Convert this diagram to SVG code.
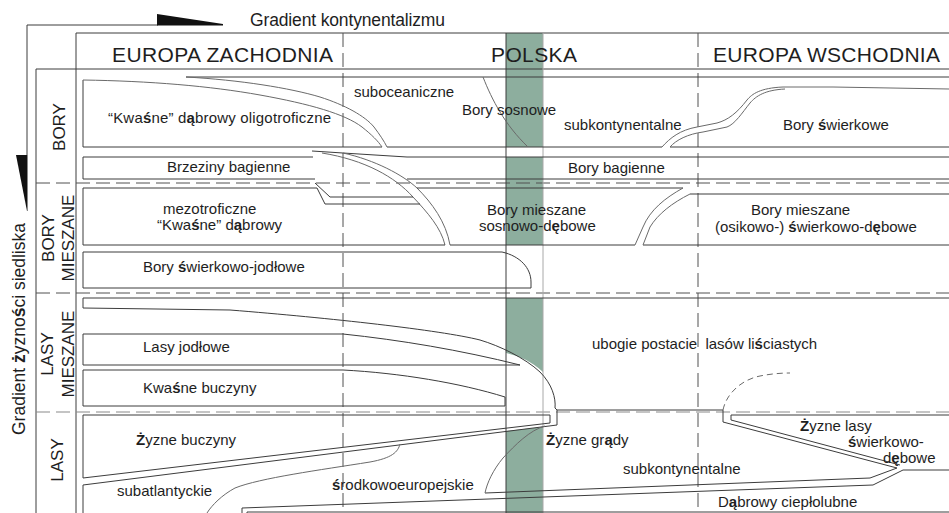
<svg xmlns="http://www.w3.org/2000/svg" width="949" height="513" viewBox="0 0 949 513">
<style>
.ln{fill:none;stroke:#3c3c3c;stroke-width:1}
.lg{fill:none;stroke:#6a6a6a;stroke-width:1}
.ll{fill:none;stroke:#a8a8a8;stroke-width:1}
.ds{fill:none;stroke:#505050;stroke-width:1;stroke-dasharray:14 6}
.dg{fill:none;stroke:#8a8a8a;stroke-width:1.2;stroke-dasharray:14 6}
.gr{fill:#8dae9e}
text{font-family:"Liberation Sans",Arial,sans-serif;fill:#1e1e1e;font-size:15px}
.h{font-size:21px}
.v{font-size:17px}
.g{font-size:17.5px}
.b{font-weight:bold}
</style>
<rect width="949" height="513" fill="#fff"/>
<g id="polska-band">
<rect class="gr" x="506" y="33" width="37" height="114"/>
<rect class="gr" x="506" y="157" width="37" height="88"/>
<path class="gr" d="M506,298 H543 V372 C530,360 518,356 506,353 Z"/>
<path class="gr" d="M506,431 L543,427 V513 H506 Z"/>
</g>
<g id="frame">
<path class="ln" d="M27,155 V25 H158"/>
<polygon points="157,14 223,24 223,25.5 157,25.5" fill="#111"/>
<polygon points="16,155 27.5,155 27.5,211 27,211" fill="#111"/>
<path class="ln" d="M76,33 H949 M76,33 V513 M36,69 H949 M36,69 V513"/>
<path class="ds" d="M343,33 V513 M698,33 V513"/>
<path class="ds" d="M36,183 H949 M36,293 H949"/>
<path class="dg" d="M36,412 H949"/>
<path class="ln" d="M506,33 V513"/>
<path class="ll" d="M543,33 V513"/>
</g>
<g id="connectors">
<path class="ln" d="M186,77 H949"/>
<path class="ln" d="M83,80 V147 H382 M387,147 H662 M670,147 H949"/>
<path class="lg" d="M83,80 C150,81 210,86 260,95 C310,104 345,114 362,127 C372,135 378,141 382,147"/>
<path class="lg" d="M186,77 C240,80 290,88 320,97 C345,105 365,116 374,127 C380,135 384,141 387,147"/>
<path class="lg" d="M483,77 C492,100 505,125 528,147"/>
<path class="lg" d="M662,147 C670,138 680,130 697,127 L717,123 C728,120 737,113 747,100 C752,94 760,88 783,87 H833 L949,89"/>
<path class="lg" d="M670,147 C676,140 688,134 703,132 L727,127 C735,124 742,113 750,103 C756,96 765,90 785,89"/>
<path class="ln" d="M83,157 H313 M83,157 V179 H315 M407,157 H949 M407,179 H949"/>
<path class="ln" d="M343,153 L407,157"/>
<path class="ln" stroke-width="1.8" d="M312,151 L343,153"/>
<path class="lg" d="M322,153 C365,160 395,177 413,197 C428,213 441,228 445,245"/>
<path class="lg" d="M343,153 C375,160 403,175 417,188 C432,203 446,222 450,245"/>
<path class="ln" d="M315,183 L330,197 H413"/>
<path class="ln" d="M83,188 H317 L325,204 H420"/>
<path class="ln" d="M83,188 V245 H445 M450,245 H635 M643,245 H949"/>
<path class="ln" d="M417,188 H683 M690,194 H949"/>
<path class="lg" d="M683,188 C665,198 650,210 643,227 L635,245"/>
<path class="lg" d="M690,194 C672,203 658,214 650,227 L643,245"/>
<path class="ln" d="M83,252 H502 C520,256 531,268 531,282 V288 H83 Z"/>
<path class="ln" d="M83,298 H949"/>
<path class="ln" d="M83,298 V308 L230,310 C330,318 440,330 480,340 C500,346 525,358 540,372 C552,384 556,398 555,408 L557,410 H723 V422 L897,468"/>
<path class="ln" d="M83,334 H343 C400,340 460,350 520,365 H83 Z"/>
<path class="ln" d="M83,370 H343 C400,373 460,383 505,397 V406 H83 Z"/>
<path class="lg" d="M723,410 C726,395 740,380 760,376 C770,374 780,373 790,373" stroke-dasharray="6 4"/>
<path class="ln" d="M731,415 V420 L900,465 M731,415 H949"/>
<path class="ln" d="M897,468 L870,478 L485,493"/>
<path class="ln" d="M949,470 H903 L873,485 L242,508 V513"/>
<path class="ln" d="M247,513 V512 H949"/>
<path class="ln" d="M83,415 H550 V423 L83,478 Z"/>
<path class="ln" d="M557,410 V425 L83,485 V513"/>
<path class="lg" d="M400,444 C398,452 392,458 370,462 C320,470 260,478 235,488 C222,495 212,505 207,513"/>
<path class="lg" d="M545,426 C530,430 515,445 503,458 C493,470 487,483 485,493"/>
</g>
<g id="labels">
<text x="250" y="26" class="g" textLength="195">Gradient kontynentalizmu</text>
<text transform="translate(25,329) rotate(-90)" class="g" text-anchor="middle" textLength="212">Gradient <tspan class="b">ż</tspan>yzno<tspan class="b">ś</tspan>ci siedliska</text>
<text x="112" y="62" class="h" textLength="221">EUROPA ZACHODNIA</text>
<text x="491" y="62" class="h" textLength="86">POLSKA</text>
<text x="713" y="62" class="h" textLength="227">EUROPA WSCHODNIA</text>
<text transform="translate(65,127) rotate(-90)" class="v" text-anchor="middle">BORY</text>
<text transform="translate(54,238) rotate(-90)" class="v" text-anchor="middle">BORY</text>
<text transform="translate(74,238) rotate(-90)" class="v" text-anchor="middle">MIESZANE</text>
<text transform="translate(53,354) rotate(-90)" class="v" text-anchor="middle">LASY</text>
<text transform="translate(74,354) rotate(-90)" class="v" text-anchor="middle">MIESZANE</text>
<text transform="translate(63,460) rotate(-90)" class="v" text-anchor="middle">LASY</text>
<text x="108" y="123" textLength="223">“Kwa<tspan class="b">ś</tspan>ne” d<tspan class="b">ą</tspan>browy oligotroficzne</text>
<text x="354" y="97">suboceaniczne</text>
<text x="462" y="115">Bory sosnowe</text>
<text x="564" y="130">subkontynentalne</text>
<text x="783" y="130">Bory <tspan class="b">ś</tspan>wierkowe</text>
<text x="167" y="172">Brzeziny bagienne</text>
<text x="568" y="173">Bory bagienne</text>
<text x="163" y="214">mezotroficzne</text>
<text x="157" y="230">“Kwa<tspan class="b">ś</tspan>ne” d<tspan class="b">ą</tspan>browy</text>
<text x="487" y="215">Bory mieszane</text>
<text x="479" y="231">sosnowo-d<tspan class="b">ę</tspan>bowe</text>
<text x="751" y="215">Bory mieszane</text>
<text x="715" y="232">(osikowo-) <tspan class="b">ś</tspan>wierkowo-d<tspan class="b">ę</tspan>bowe</text>
<text x="143" y="272">Bory <tspan class="b">ś</tspan>wierkowo-jodłowe</text>
<text x="592" y="349" xml:space="preserve">ubogie postacie  lasów li<tspan class="b">ś</tspan>ciastych</text>
<text x="143" y="352">Lasy jodłowe</text>
<text x="143" y="393">Kwa<tspan class="b">ś</tspan>ne buczyny</text>
<text x="136" y="445"><tspan class="b">Ż</tspan>yzne buczyny</text>
<text x="546" y="445"><tspan class="b">Ż</tspan>yzne gr<tspan class="b">ą</tspan>dy</text>
<text x="800" y="431"><tspan class="b">Ż</tspan>yzne lasy</text>
<text x="848" y="447"><tspan class="b">ś</tspan>wierkowo-</text>
<text x="883" y="463">d<tspan class="b">ę</tspan>bowe</text>
<text x="623" y="474">subkontynentalne</text>
<text x="117" y="496">subatlantyckie</text>
<text x="332" y="490"><tspan class="b">ś</tspan>rodkowoeuropejskie</text>
<text x="718" y="507">D<tspan class="b">ą</tspan>browy ciepłolubne</text>
</g>
</svg>
